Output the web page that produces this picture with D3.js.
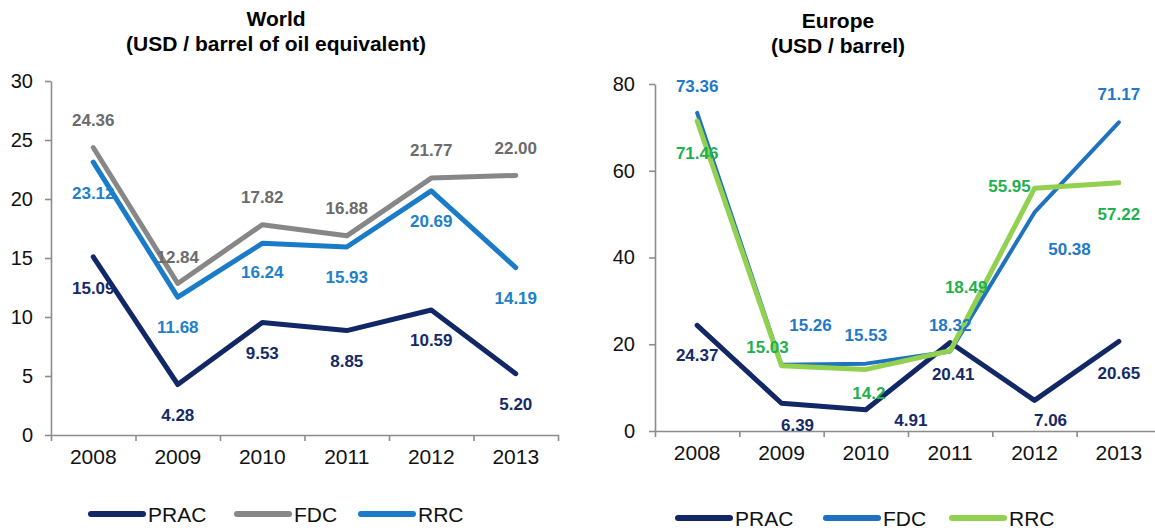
<!DOCTYPE html>
<html>
<head>
<meta charset="utf-8">
<script src="https://cdn.jsdelivr.net/npm/d3@7"></script>
<style>
  body { margin: 0; background: #fff; }
  svg { display: block; font-family: "Liberation Sans", Arial, sans-serif; }
</style>
</head>
<body>
<div id="chart"></div>
<script>
// values
var years = ["2008", "2009", "2010", "2011", "2012", "2013"];

var worldPRAC = [15.09, 4.28, 9.53, 8.85, 10.59, 5.20];
var worldFDC  = [24.36, 12.84, 17.82, 16.88, 21.77, 22.00];
var worldRRC  = [23.12, 11.68, 16.24, 15.93, 20.69, 14.19];

var europePRAC = [24.37, 6.39, 4.91, 20.41, 7.06, 20.65];
var europeFDC  = [73.36, 15.26, 15.53, 18.32, 50.38, 71.17];
var europeRRC  = [71.46, 15.03, 14.2, 18.49, 55.95, 57.22];
var europeRRCText = ["71.46", "15.03", "14.2", "18.49", "55.95", "57.22"];

var worldTicks  = [0, 5, 10, 15, 20, 25, 30];
var europeTicks = [0, 20, 40, 60, 80];

var seriesNames = ["PRAC", "FDC", "RRC"];

// label nudges (dx, dy from the point), layout only
var worldNudge = {
  PRAC: [[0, 31], [0, 30], [0, 30], [0, 30], [0, 30], [0, 30]],
  FDC:  [[0, -28], [0, -27], [0, -28], [0, -28], [0, -28], [0, -28]],
  RRC:  [[0, 31], [0, 30], [0, 29], [0, 30], [0, 30], [0, 30]]
};
var europeNudge = {
  PRAC: [[0, 30], [16, 22], [45, 10], [3, 31], [16, 20], [0, 31]],
  FDC:  [[0, -27], [29, -40], [0, -29], [0, -27], [35, 36], [0, -28]],
  RRC:  [[0, 32], [-14, -19], [3, 23], [16, -64], [-25, -2], [0, 31]]
};

var svg = d3.select("#chart").append("svg")
    .attr("width", 1155)
    .attr("height", 532);

function drawPanel(p) {
  var g = svg.append("g");

  var x = d3.scaleBand().domain(years).range([p.x0, p.x1]).padding(0);
  var y = d3.scaleLinear().domain([0, d3.max(p.ticks)]).range([p.y0, p.y1]);

  // titles
  g.append("text")
      .attr("x", p.titleX).attr("y", p.titleY)
      .attr("text-anchor", "middle")
      .style("font-size", "21px").style("font-weight", "bold")
      .text(p.title);
  g.append("text")
      .attr("x", p.titleX).attr("y", p.titleY + 25)
      .attr("text-anchor", "middle")
      .style("font-size", "21px").style("font-weight", "bold")
      .text(p.subtitle);

  // y axis
  var ya = g.append("g")
      .attr("transform", "translate(" + p.x0 + ",0)")
      .call(d3.axisLeft(y).tickValues(p.ticks).tickSize(6).tickSizeOuter(0).tickPadding(p.tickPad));
  ya.selectAll("text").style("font-size", "20px").style("fill", "#111")
      .style("font-family", "'Liberation Sans', Arial, sans-serif");

  // x axis: labels at band centres, tick marks at band edges
  var edge = d3.scaleLinear().domain([0, years.length]).range([p.x0, p.x1]);
  g.append("g")
      .attr("transform", "translate(0," + p.y0 + ")")
      .call(d3.axisBottom(edge).ticks(years.length).tickFormat("").tickSize(6).tickSizeOuter(0));
  var xa = g.append("g")
      .attr("transform", "translate(0," + p.y0 + ")")
      .call(d3.axisBottom(x).tickSize(0).tickPadding(14));
  xa.select(".domain").remove();
  xa.selectAll("text").style("font-size", "21px").style("fill", "#111")
      .style("font-family", "'Liberation Sans', Arial, sans-serif");

  g.selectAll(".domain, .tick line").attr("stroke", "#8c8c8c").attr("stroke-width", 1.6);

  var line = d3.line()
      .x(function(d, i) { return x(years[i]) + x.bandwidth() / 2; })
      .y(function(d) { return y(d); });

  p.series.forEach(function(s) {
    g.append("path")
        .datum(s.values)
        .attr("d", line)
        .attr("fill", "none")
        .attr("stroke", s.color)
        .attr("stroke-width", s.width)
        .attr("stroke-linejoin", "round")
        .attr("stroke-linecap", "round");
  });

  p.series.forEach(function(s) {
    g.selectAll(".lbl-" + s.name)
        .data(s.values)
      .enter().append("text")
        .attr("x", function(d, i) { return x(years[i]) + x.bandwidth() / 2 + p.nudge[s.name][i][0]; })
        .attr("y", function(d, i) { return y(d) + p.nudge[s.name][i][1]; })
        .attr("dy", "0.36em")
        .attr("text-anchor", "middle")
        .style("font-size", "17px").style("font-weight", "bold")
        .style("fill", s.labelColor)
        .text(function(d, i) { return s.texts ? s.texts[i] : d3.format(".2f")(d); });
  });

  // legend
  var lg = g.append("g");
  p.series.forEach(function(s, i) {
    var lx = p.legendX[i];
    lg.append("line")
        .attr("x1", lx).attr("x2", lx + 52)
        .attr("y1", p.legendY).attr("y2", p.legendY)
        .attr("stroke", s.color)
        .attr("stroke-width", 6)
        .attr("stroke-linecap", "round");
    lg.append("text")
        .attr("x", lx + 57).attr("y", p.legendY)
        .attr("dy", "0.36em")
        .style("font-size", "21px").style("fill", "#111")
        .text(s.name);
  });
}

drawPanel({
  title: "World", subtitle: "(USD / barrel of oil equivalent)",
  titleX: 276, titleY: 26,
  x0: 51, x1: 558, y0: 435, y1: 81,
  ticks: worldTicks, tickPad: 12,
  nudge: worldNudge,
  legendX: [91, 237, 361], legendY: 514,
  series: [
    {name: seriesNames[0], values: worldPRAC, color: "#112766", width: 5, labelColor: "#162a68"},
    {name: seriesNames[1], values: worldFDC, color: "#878787", width: 5, labelColor: "#6b6b6b"},
    {name: seriesNames[2], values: worldRRC, color: "#1a7cc8", width: 5, labelColor: "#2180cd"}
  ]
});

drawPanel({
  title: "Europe", subtitle: "(USD / barrel)",
  titleX: 838, titleY: 28,
  x0: 655, x1: 1161, y0: 431, y1: 84,
  ticks: europeTicks, tickPad: 14,
  nudge: europeNudge,
  legendX: [678, 826, 952], legendY: 518,
  series: [
    {name: seriesNames[0], values: europePRAC, color: "#112766", width: 5, labelColor: "#162a68"},
    {name: seriesNames[1], values: europeFDC, color: "#1f72c0", width: 4, labelColor: "#1f78c8"},
    {name: seriesNames[2], values: europeRRC, texts: europeRRCText, color: "#92d050", width: 5, labelColor: "#1fb050"}
  ]
});
</script>
</body>
</html>
